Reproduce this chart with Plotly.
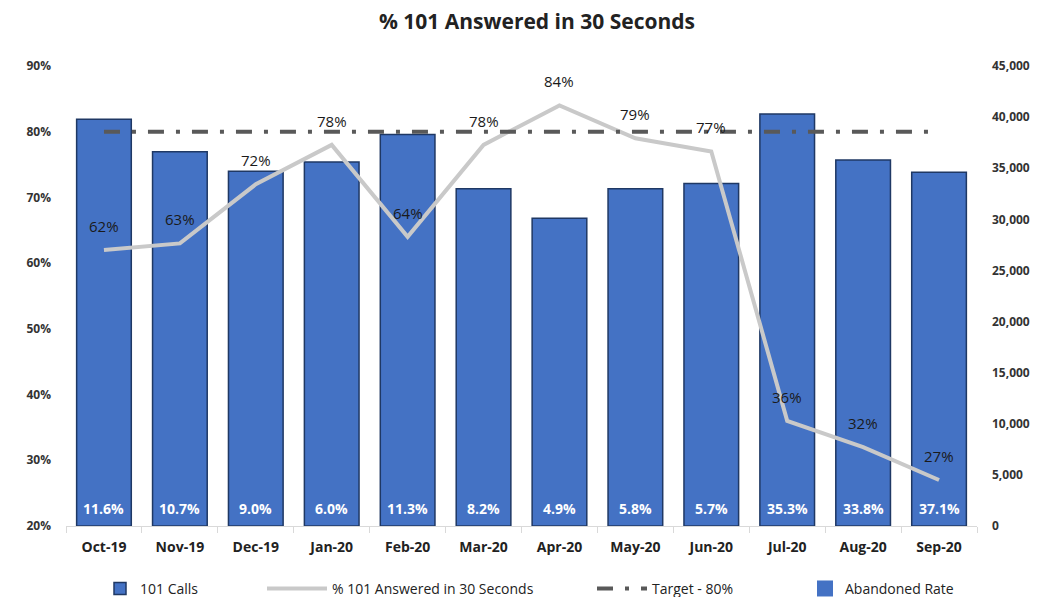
import plotly.graph_objects as go

months = ["Oct-19", "Nov-19", "Dec-19", "Jan-20", "Feb-20", "Mar-20",
          "Apr-20", "May-20", "Jun-20", "Jul-20", "Aug-20", "Sep-20"]
calls = [39800, 36600, 34700, 35600, 38300, 33000, 30100, 33000, 33500, 40300, 35800, 34600]
answered_pct = [0.62, 0.63, 0.72, 0.78, 0.64, 0.78, 0.84, 0.79, 0.77, 0.36, 0.32, 0.27]
abandoned_rate = [0.116, 0.107, 0.090, 0.060, 0.113, 0.082, 0.049, 0.058, 0.057, 0.353, 0.338, 0.371]
target = [0.80] * len(months)

FONT = "Open Sans"
# page is rendered with an 8px body margin; margins compensate for it
OFF = 8
L, R, T, B = 58, 80, 58, 79
W, H = 1049, 597
PW = W - L - R


def px_x(page_px):
    return (page_px - OFF - L) / PW


fig = go.Figure()

fig.add_trace(go.Bar(
    x=months, y=calls, name="101 Calls", yaxis="y", legend="legend",
    marker=dict(color="#4472C4", line=dict(color="#1F3864", width=1.5)),
    width=0.72,
))

fig.add_trace(go.Scatter(
    x=months, y=answered_pct, name="% 101 Answered in 30 Seconds", yaxis="y2",
    legend="legend2",
    mode="lines", line=dict(color="#C9C9C9", width=4),
))

fig.add_trace(go.Scatter(
    x=months, y=target, name="Target - 80%", yaxis="y2", legend="legend3",
    mode="lines", line=dict(color="#595959", width=4, dash="16px,12px,4px,12px"),
))

fig.add_trace(go.Scatter(
    x=[None], y=[None], name="Abandoned Rate", yaxis="y2", legend="legend4",
    mode="markers", marker=dict(symbol="square", size=16, color="#4472C4"),
))

for m, v in zip(months, answered_pct):
    fig.add_annotation(
        x=m, y=v, xref="x", yref="y2", text=f"{v*100:.0f}%",
        showarrow=False, yshift=24,
        font=dict(size=15, color="#1a1a1a", family=FONT),
    )

for m, r in zip(months, abandoned_rate):
    fig.add_annotation(
        x=m, y=0, xref="x", yref="y", text=f"{r*100:.1f}%",
        showarrow=False, yshift=18,
        font=dict(size=14, color="white", family=FONT, weight="bold"),
    )

legend_common = dict(orientation="h", yref="container", yanchor="middle", y=0.027,
                     xanchor="left",
                     font=dict(size=14, color="#222222", family=FONT),
                     bgcolor="rgba(0,0,0,0)")

fig.update_layout(
    width=W, height=H,
    paper_bgcolor="white", plot_bgcolor="white",
    margin=dict(l=L, r=R, t=T, b=B, autoexpand=False),
    title=dict(text="% 101 Answered in 30 Seconds", x=(537 - OFF) / W, xanchor="center",
               y=1 - 14 / H, yanchor="middle",
               font=dict(size=21, color="#222222", family=FONT, weight="bold")),
    font=dict(family=FONT, size=12, color="#333333"),
    xaxis=dict(
        showgrid=False, showline=True, linecolor="#D9D9D9", linewidth=1,
        ticks="outside", tickson="boundaries", ticklen=6, tickcolor="#D9D9D9",
        ticklabelstandoff=8,
        tickfont=dict(size=14, color="#222222", family=FONT, weight="bold"),
    ),
    yaxis=dict(
        side="right", range=[0, 45000], dtick=5000, tickformat=",",
        showgrid=False, zeroline=False, showline=False, ticklabelstandoff=14,
        tickfont=dict(size=12, color="#333333", family=FONT, weight="bold"),
    ),
    yaxis2=dict(
        overlaying="y", side="left", range=[0.2, 0.9], dtick=0.1, tickformat=".0%",
        showgrid=False, zeroline=False, showline=False, ticklabelstandoff=14,
        tickfont=dict(size=12, color="#333333", family=FONT, weight="bold"),
    ),
    legend=dict(x=px_x(100), **legend_common),
    legend2=dict(x=px_x(262), itemwidth=60, **legend_common),
    legend3=dict(x=px_x(592), itemwidth=50, **legend_common),
    legend4=dict(x=px_x(805), **legend_common),
    showlegend=True,
)

fig.write_html("out.html")
